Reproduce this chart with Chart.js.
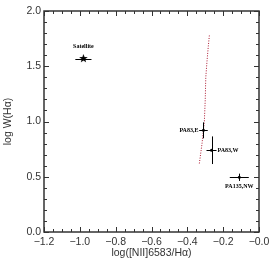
<!DOCTYPE html>
<html><head><meta charset="utf-8">
<script src="https://cdn.jsdelivr.net/npm/chart.js@4/dist/chart.umd.min.js"></script>
<style>html,body{margin:0;padding:0;background:#fff}#wrap{width:274px;height:267px;position:relative}</style>
</head><body><div id="wrap"><canvas id="c"></canvas></div>
<script>
// ---- data ----
const pointNames = ['Satellite', 'PA83,E', 'PA83,W', 'PA135,NW'];
const pointX = [-0.98, -0.31, -0.265, -0.11];
const pointY = [1.57, 0.92, 0.74, 0.495];
const pointXErr = [0.045, 0.024, 0.028, 0.053];
const pointYErr = [0.005, 0.072, 0.125, 0.033];
const curveX = [-0.333, -0.318, -0.305, -0.300, -0.297, -0.290, -0.283, -0.277];
const curveY = [0.62, 0.80, 1.00, 1.20, 1.40, 1.55, 1.68, 1.78];
const xTicks = [-1.2, -1.0, -0.8, -0.6, -0.4, -0.2, 0.0];
const yTicks = [0.0, 0.5, 1.0, 1.5, 2.0];
const xMinorStep = 0.05, yMinorStep = 0.1;

// star marker image
function starImg(size) {
  const c = document.createElement('canvas');
  c.width = size; c.height = size;
  const g = c.getContext('2d');
  const cx = size / 2, cy = size / 2, R = size / 2, r = R * 0.42;
  g.beginPath();
  for (let i = 0; i < 10; i++) {
    const a = -Math.PI / 2 + i * Math.PI / 5;
    const rr = i % 2 ? r : R;
    g.lineTo(cx + rr * Math.cos(a), cy + rr * Math.sin(a));
  }
  g.closePath();
  g.fillStyle = '#000';
  g.fill();
  return c;
}
const star = starImg(9);

const tickFont = { family: "'Liberation Sans', Arial, sans-serif", size: 10.5 };
const fmt = v => (v <= 0 ? '\u2212' : '') + Math.abs(v).toFixed(1);

const frame = {
  id: 'frame',
  afterDatasetsDraw(chart) {
    const { ctx, chartArea: a, scales: { x, y } } = chart;
    ctx.save();
    // error bars
    ctx.strokeStyle = '#000';
    ctx.lineWidth = 1;
    for (let i = 0; i < pointX.length; i++) {
      const px = x.getPixelForValue(pointX[i]), py = y.getPixelForValue(pointY[i]);
      const x0 = x.getPixelForValue(pointX[i] - pointXErr[i]), x1 = x.getPixelForValue(pointX[i] + pointXErr[i]);
      const y0 = y.getPixelForValue(pointY[i] - pointYErr[i]), y1 = y.getPixelForValue(pointY[i] + pointYErr[i]);
      ctx.beginPath();
      ctx.moveTo(x0, Math.round(py) + 0.5); ctx.lineTo(x1, Math.round(py) + 0.5);
      ctx.moveTo(Math.round(px) + 0.5, y0); ctx.lineTo(Math.round(px) + 0.5, y1);
      ctx.stroke();
    }
    // labels
    ctx.fillStyle = '#000';
    ctx.font = "bold 6px 'Liberation Serif', 'Times New Roman', serif";
    ctx.textBaseline = 'middle';
    const place = [
      { dx: 0, dy: -12, align: 'center' },
      { dx: -5, dy: 0, align: 'right' },
      { dx: 6, dy: 0, align: 'left' },
      { dx: 0, dy: 9, align: 'center' }
    ];
    for (let i = 0; i < pointNames.length; i++) {
      const px = x.getPixelForValue(pointX[i]), py = y.getPixelForValue(pointY[i]);
      ctx.textAlign = place[i].align;
      ctx.fillText(pointNames[i], px + place[i].dx, py + place[i].dy);
    }
    // frame
    ctx.strokeStyle = '#333';
    ctx.lineWidth = 1.5;
    ctx.strokeRect(a.left, a.top, a.right - a.left, a.bottom - a.top);
    ctx.lineWidth = 1;
    ctx.beginPath();
    const xmin = xTicks[0], xmax = xTicks[xTicks.length - 1];
    for (let k = 0; xmin + k * xMinorStep <= xmax + 1e-9; k++) {
      const v = xmin + k * xMinorStep;
      const major = xTicks.some(t => Math.abs(t - v) < 1e-6);
      const L = major ? 5 : 3;
      const px = Math.round(x.getPixelForValue(v)) + 0.5;
      ctx.moveTo(px, a.bottom); ctx.lineTo(px, a.bottom - L);
      ctx.moveTo(px, a.top); ctx.lineTo(px, a.top + L);
    }
    const ymin = yTicks[0], ymax = yTicks[yTicks.length - 1];
    for (let k = 0; ymin + k * yMinorStep <= ymax + 1e-9; k++) {
      const v = ymin + k * yMinorStep;
      const major = yTicks.some(t => Math.abs(t - v) < 1e-6);
      const L = major ? 5 : 3;
      const py = Math.round(y.getPixelForValue(v)) + 0.5;
      ctx.moveTo(a.left, py); ctx.lineTo(a.left + L, py);
      ctx.moveTo(a.right, py); ctx.lineTo(a.right - L, py);
    }
    ctx.stroke();
    ctx.restore();
  }
};

new Chart(document.getElementById('c'), {
  type: 'scatter',
  data: {
    datasets: [
      {
        data: curveX.map((v, i) => ({ x: v, y: curveY[i] })),
        showLine: true, borderColor: 'rgb(170,20,45)', borderWidth: 1,
        borderDash: [1, 1.5], pointRadius: 0, fill: false
      },
      {
        data: [{ x: pointX[0], y: pointY[0] }],
        pointStyle: star, pointRadius: 4.5
      },
      {
        data: pointX.slice(1).map((v, i) => ({ x: v, y: pointY[i + 1] })),
        pointRadius: 1.5, backgroundColor: '#000', borderColor: '#000', borderWidth: 0
      }
    ]
  },
  options: {
    responsive: true, maintainAspectRatio: false, animation: false,
    layout: { padding: { left: 0, right: 15, top: 11, bottom: 0 } },
    plugins: { legend: { display: false }, tooltip: { enabled: false } },
    scales: {
      x: {
        type: 'linear', min: xTicks[0], max: xTicks[xTicks.length - 1],
        afterBuildTicks: s => { s.ticks = xTicks.map(v => ({ value: v })); },
        afterFit: s => { s.height = 35; },
        grid: { display: false, drawTicks: false },
        border: { display: false },
        ticks: { font: tickFont, color: '#333', padding: 4, callback: fmt, maxRotation: 0, autoSkip: false },
        title: { display: true, text: 'log([NII]6583/H\u03b1)', font: tickFont, color: '#333', padding: { top: 0, bottom: 8 } }
      },
      y: {
        type: 'linear', min: yTicks[0], max: yTicks[yTicks.length - 1],
        afterBuildTicks: s => { s.ticks = yTicks.map(v => ({ value: v })); },
        afterFit: s => { s.width = 44; },
        grid: { display: false, drawTicks: false },
        border: { display: false },
        ticks: { font: tickFont, color: '#333', padding: 3, callback: v => v.toFixed(1), autoSkip: false },
        title: { display: true, text: 'log W(H\u03b1)', font: tickFont, color: '#333', padding: { top: 2, bottom: 0 } }
      }
    }
  },
  plugins: [frame]
});
</script>
</body></html>
